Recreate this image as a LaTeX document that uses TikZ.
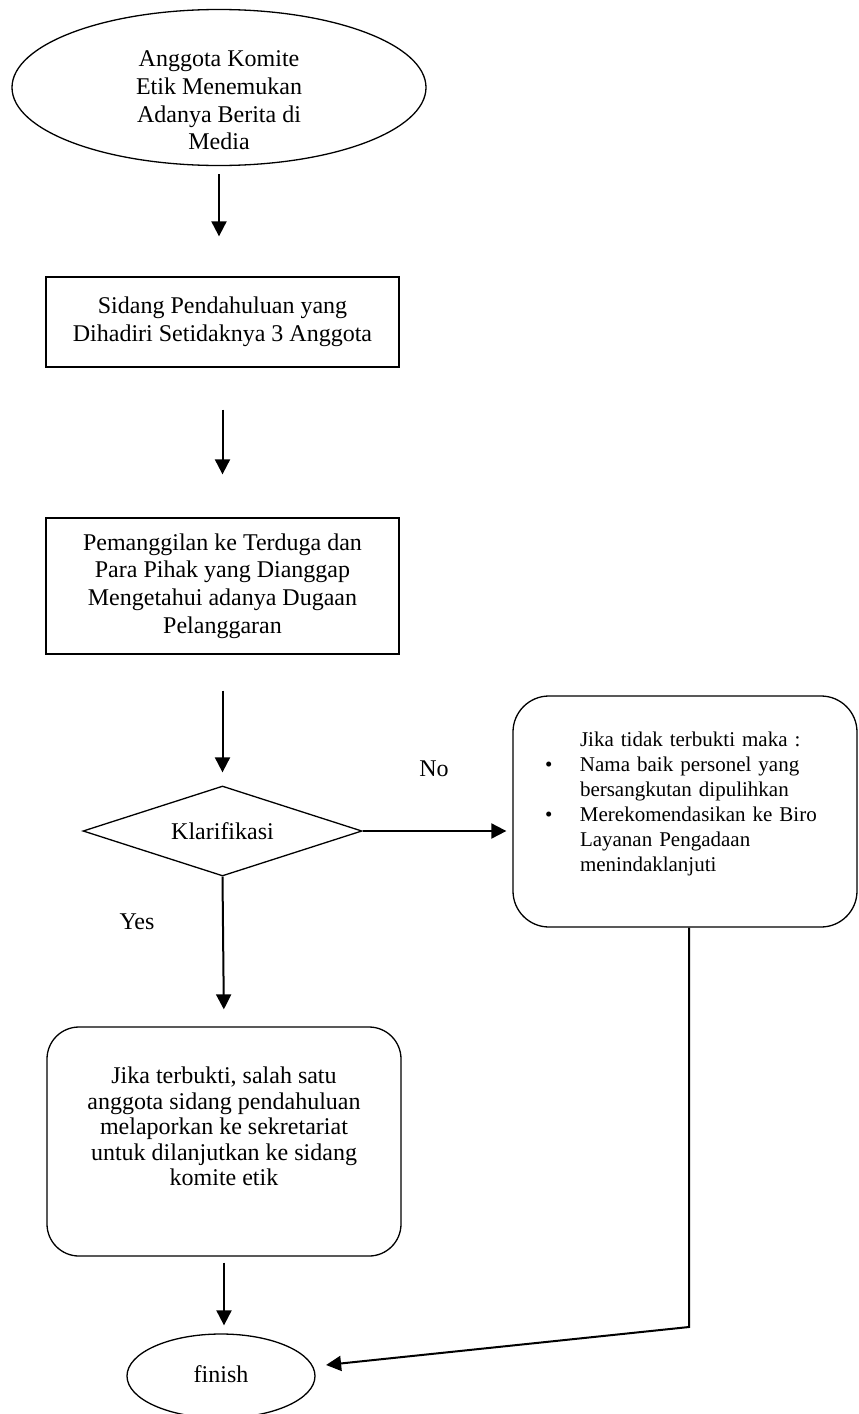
\documentclass[tikz,border=0pt]{standalone}
\usepackage{fontspec}
\setmainfont{Liberation Serif}
\usetikzlibrary{shapes.geometric, arrows.meta}

\begin{document}
\begin{tikzpicture}[x=0.5pt, y=-0.5pt,
    teks/.style={font=\fontsize{12pt}{13.8pt}\selectfont},
    kotak/.style={draw, line width=0.65pt, rectangle, inner sep=0pt, align=center, teks},
    bulat/.style={draw, line width=0.65pt, rectangle, rounded corners=#1, inner sep=0pt},
    oval/.style={draw, line width=0.65pt, ellipse, inner sep=0pt, teks},
    belah/.style={draw, line width=0.65pt, diamond, aspect=3, inner sep=0pt, teks},
    panah/.style={line width=1pt, -{Triangle[length=7.5pt, width=7.5pt]}}
]
    \useasboundingbox (0, 0) rectangle (858, 1414); % page

    % Start
    \node[oval, minimum width=207pt, minimum height=78pt,
          label={[teks, align=center, yshift=-6.5pt]center:{Anggota Komite\\Etik Menemukan\\Adanya Berita di\\Media}}] (mulai) at (219, 87.5) {};

    % Steps
    \node[kotak, minimum width=176.5pt, minimum height=45pt] (sidang) at (222.5, 322) {Sidang Pendahuluan yang\\Dihadiri Setidaknya 3 Anggota};
    \node[kotak, minimum width=176.5pt, minimum height=68pt] (panggil) at (222.5, 586) {Pemanggilan ke Terduga dan\\Para Pihak yang Dianggap\\Mengetahui adanya Dugaan\\Pelanggaran};

    % Decision
    \node[belah, minimum width=139.5pt, minimum height=45pt] (klarifikasi) at (222.5, 831) {Klarifikasi};
    \node[teks] (no) at (434, 769) {No};
    \node[teks] (yes) at (137, 922) {Yes};

    % Not proven
    \node[bulat=18pt, minimum width=172pt, minimum height=115.5pt,
          label={[font=\fontsize{10.5pt}{12.5pt}\selectfont, text width=140pt, align=left, inner sep=0pt, yshift=4pt]center:{\hspace*{17.5pt}Jika tidak terbukti maka :\\
          \makebox[17.5pt][l]{\textbullet}Nama baik personel yang\\
          \hspace*{17.5pt}bersangkutan dipulihkan\\
          \makebox[17.5pt][l]{\textbullet}Merekomendasikan ke Biro\\
          \hspace*{17.5pt}Layanan Pengadaan\\
          \hspace*{17.5pt}menindaklanjuti}}] (tidakterbukti) at (685, 811.5) {};

    % Proven
    \node[bulat=16pt, minimum width=177pt, minimum height=114.5pt,
          label={[font=\fontsize{12pt}{12.8pt}\selectfont, align=center, yshift=7.5pt]center:{Jika terbukti, salah satu\\anggota sidang pendahuluan\\melaporkan ke sekretariat\\untuk dilanjutkan ke sidang\\komite etik}}] (terbukti) at (224, 1141.5) {};

    % End
    \node[oval, minimum width=94pt, minimum height=42pt] (selesai) at (221, 1376) {\raisebox{2pt}{finish}};
    \coordinate (belok) at (689, 1327);

    % Arrows
    \draw[panah, shorten <=4pt, shorten >=20pt] (mulai.south) -- (mulai.south |- sidang.north);
    \draw[panah, shorten <=21pt, shorten >=21.5pt] (sidang.south) -- (panggil.north);
    \draw[panah, shorten <=18pt, shorten >=6.5pt] (panggil.south) -- (klarifikasi.north);
    \draw[panah, shorten >=3pt] (klarifikasi.east) -- (klarifikasi.east -| tidakterbukti.west);
    \draw[panah, shorten >=8.5pt] (klarifikasi.south) -- (terbukti.north);
    \draw[panah, shorten <=3pt, shorten >=4pt] (terbukti.south) -- (terbukti.south |- selesai.north);
    \draw[panah, shorten >=6.5pt] (tidakterbukti.south -| belok) -- (belok) -- (selesai);
\end{tikzpicture}
\end{document}
